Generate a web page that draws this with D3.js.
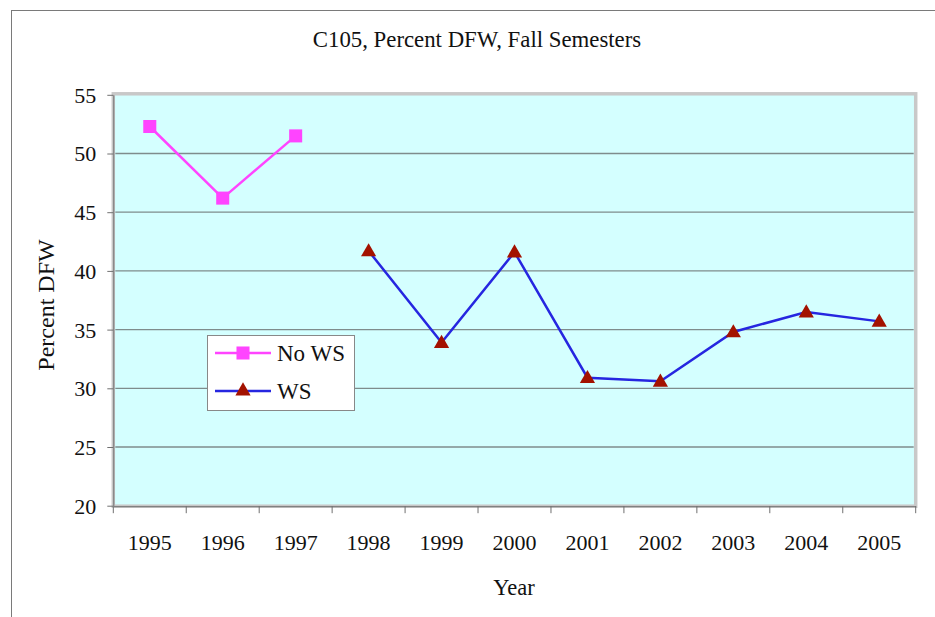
<!DOCTYPE html>
<html>
<head>
<meta charset="utf-8">
<script src="https://cdn.jsdelivr.net/npm/d3@7"></script>
<style>
  html, body { margin: 0; padding: 0; background: #ffffff; }
  svg { display: block; }
  text { font-family: "Liberation Serif", "Times New Roman", serif; fill: #111; }
</style>
</head>
<body>
<svg id="chart" width="935" height="617"></svg>
<script>
// ---- data ----
const years = ["1995","1996","1997","1998","1999","2000","2001","2002","2003","2004","2005"];
const noWSYears = ["1995","1996","1997"];
const noWSValues = [52.3, 46.2, 51.5];
const wsYears = ["1998","1999","2000","2001","2002","2003","2004","2005"];
const wsValues = [41.7, 33.9, 41.6, 30.9, 30.6, 34.8, 36.5, 35.7];
const yTicks = [20, 25, 30, 35, 40, 45, 50, 55];
const seriesNames = ["No WS", "WS"];
const titleText = "C105, Percent DFW, Fall Semesters";
const xTitle = "Year";
const yTitle = "Percent DFW";

// ---- layout ----
const svg = d3.select("#chart");
const pLeft = 113.3, pRight = 915.7, pTop = 94.8, pBottom = 505.7;
const x = d3.scaleBand().domain(years).range([pLeft, pRight]).padding(0);
const y = d3.scaleLinear().domain([20, 55]).range([pBottom, pTop]);

const pink = "#ff44ff", blue = "#2626e0", tri = "#a31200";
const serif = "Liberation Serif, serif";

// outer frame
svg.append("rect").attr("x", 11.5).attr("y", 10.5).attr("width", 940).attr("height", 640)
  .attr("fill", "none").attr("stroke", "#7a7a7a").attr("stroke-width", 1);

// title
svg.append("text").attr("x", 477).attr("y", 47).attr("text-anchor", "middle")
  .style("font-size", "22.8px").text(titleText);

// plot area background + gray border
svg.append("rect").attr("x", pLeft).attr("y", pTop - 1).attr("width", pRight - pLeft).attr("height", pBottom - pTop + 1.5)
  .attr("fill", "#d4ffff").attr("stroke", "#c8c8c8").attr("stroke-width", 3.5);

// gridlines
svg.append("g").selectAll("line").data(yTicks.filter(d => d > 20 && d < 55)).join("line")
  .attr("x1", pLeft + 2).attr("x2", pRight - 2)
  .attr("y1", d => y(d)).attr("y2", d => y(d))
  .attr("stroke", "#7f8c8c").attr("stroke-width", 1.3);

// y axis
const yAxis = d3.axisLeft(y).tickValues(yTicks).tickSize(6).tickPadding(11).tickSizeOuter(0);
const gy = svg.append("g").attr("transform", `translate(${pLeft},0)`).call(yAxis);
gy.select(".domain").attr("stroke", "#707070");
gy.selectAll(".tick line").attr("stroke", "#707070");
gy.selectAll(".tick text").style("font-size", "22px").style("font-family", serif).attr("fill", "#111").attr("dy", "0.34em");

// x axis
const xAxis = d3.axisBottom(x).tickSize(0).tickPadding(28).tickSizeOuter(0);
const gx = svg.append("g").attr("transform", `translate(0,${pBottom + 0.5})`).call(xAxis);
gx.select(".domain").attr("stroke", "#707070");
gx.selectAll(".tick text").style("font-size", "22px").style("font-family", serif).attr("fill", "#111");
// category boundary ticks
gx.append("g").selectAll("line").data(years.concat(["__end"])).join("line")
  .attr("x1", (d, i) => i < years.length ? x(d) : pRight)
  .attr("x2", (d, i) => i < years.length ? x(d) : pRight)
  .attr("y1", 0).attr("y2", 7).attr("stroke", "#707070");

// axis titles
svg.append("text").attr("x", 514).attr("y", 595).attr("text-anchor", "middle")
  .style("font-size", "22.5px").text(xTitle);
svg.append("text").attr("transform", "translate(54,305) rotate(-90)").attr("text-anchor", "middle")
  .style("font-size", "24px").text(yTitle);

// series
const cx = d => x(d) + x.bandwidth() / 2;
const noWS = noWSYears.map((d, i) => ({ year: d, v: noWSValues[i] }));
const ws = wsYears.map((d, i) => ({ year: d, v: wsValues[i] }));
const line = d3.line().x(d => cx(d.year)).y(d => y(d.v));

svg.append("path").datum(noWS).attr("d", line).attr("fill", "none").attr("stroke", pink).attr("stroke-width", 2.5);
svg.append("path").datum(ws).attr("d", line).attr("fill", "none").attr("stroke", blue).attr("stroke-width", 2.5);

const sq = d3.symbol().type(d3.symbolSquare).size(170);
const tr = d3.symbol().type(d3.symbolTriangle).size(100);
svg.append("g").selectAll("path").data(noWS).join("path")
  .attr("transform", d => `translate(${cx(d.year)},${y(d.v)})`).attr("d", sq).attr("fill", pink);
svg.append("g").selectAll("path").data(ws).join("path")
  .attr("transform", d => `translate(${cx(d.year)},${y(d.v) + 1})`).attr("d", tr).attr("fill", tri);

// legend
const lg = svg.append("g");
lg.append("rect").attr("x", 207.5).attr("y", 335.5).attr("width", 147).attr("height", 75)
  .attr("fill", "#ffffff").attr("stroke", "#888888").attr("stroke-width", 1);
const rows = [
  { name: seriesNames[0], color: pink, sym: sq, fill: pink, yy: 353 },
  { name: seriesNames[1], color: blue, sym: tr, fill: tri, yy: 391 }
];
rows.forEach(r => {
  lg.append("line").attr("x1", 215).attr("x2", 271).attr("y1", r.yy).attr("y2", r.yy)
    .attr("stroke", r.color).attr("stroke-width", 2.5);
  lg.append("path").attr("transform", `translate(243,${r.yy})`).attr("d", r.sym).attr("fill", r.fill);
  lg.append("text").attr("x", 277).attr("y", r.yy + 8).style("font-size", "23px").text(r.name);
});
</script>
</body>
</html>
